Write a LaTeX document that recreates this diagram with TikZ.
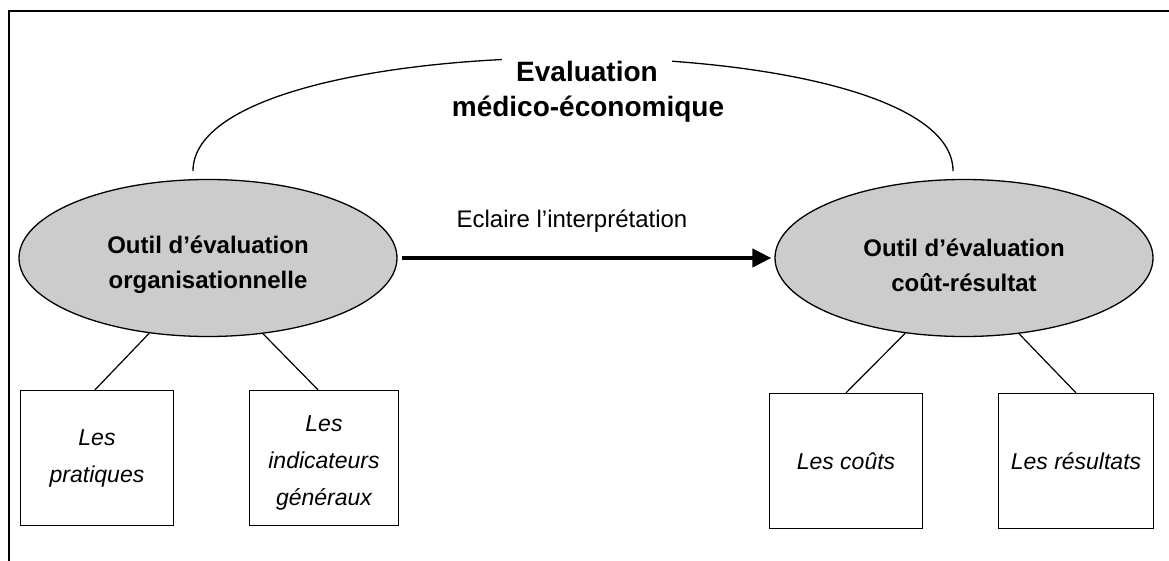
\documentclass[tikz,border=0pt]{standalone}
\usepackage{fontspec}
\setmainfont{Liberation Sans}
\usepackage{tikz}
\usetikzlibrary{arrows.meta,shapes.geometric}
\definecolor{toolgray}{RGB}{204,204,204}

\begin{document}
\begin{tikzpicture}[x=1pt,y=-1pt]

\tikzset{tool/.style = {shape=ellipse,draw,fill=toolgray,line width=1.3pt,minimum width=378pt,minimum height=157pt,inner sep=0pt,align=center,font=\fontsize{24}{35}\selectfont\bfseries}}
\tikzset{item/.style = {shape=rectangle,draw,line width=1.3pt,minimum width=153pt,minimum height=135pt,inner sep=0pt,align=center,font=\fontsize{23}{37}\selectfont\itshape}}
\tikzset{flow/.style = {-{Triangle[length=19pt,width=18pt]},line width=4pt,shorten <=4pt,shorten >=3pt}}
\tikzset{link/.style = {line width=1.2pt}}
\tikzset{title/.style = {anchor=base,inner sep=0pt,font=\fontsize{28}{36}\selectfont\bfseries}}

\useasboundingbox (0,0) rectangle (1169,561);

% frame
\draw[line width=2.3pt] (9,561) -- (9,11) -- (1169,11);

% ovals
\node[tool] (orga) at (208,258) {\rule{0pt}{32pt}Outil d’évaluation\\organisationnelle};
\node[tool] (cost) at (964,258) {\rule{0pt}{32pt}Outil d’évaluation\\coût-résultat};

% boxes
\node[item] (prat) at (97,458) {Les\\pratiques};
\node[item,minimum width=149pt] (indic) at (324,458) {\rule{0pt}{26pt}Les\\indicateurs\\généraux};
\node[item] (couts) at (846,461) {Les coûts};
\node[item,minimum width=155pt] (resul) at (1076,461) {Les résultats};

% arch over both ovals
\coordinate (archL) at (193,171);
\coordinate (archR) at (953,171);
\draw[line width=1.3pt] (archL) .. controls (193,20) and (953,20) .. (archR);

% labels
\node[title,fill=white,inner xsep=14pt,inner ysep=7pt] (eval) at (587,82) {Evaluation};
\node[title] (medico) at (588,117) {médico-économique};
\node[anchor=base,font=\fontsize{24}{30}\selectfont] (note) at (572,228) {Eclaire l’interprétation};

% arrow
\draw[flow] (orga) -- (cost);

% links
\draw[link] ([xshift=-2pt]prat.north) -- (orga.232);
\draw[link] ([xshift=-6pt]indic.north) -- (orga.306);
\draw[link] (couts.north) -- (cost.232);
\draw[link] (resul.north) -- (cost.306);

\end{tikzpicture}
\end{document}
